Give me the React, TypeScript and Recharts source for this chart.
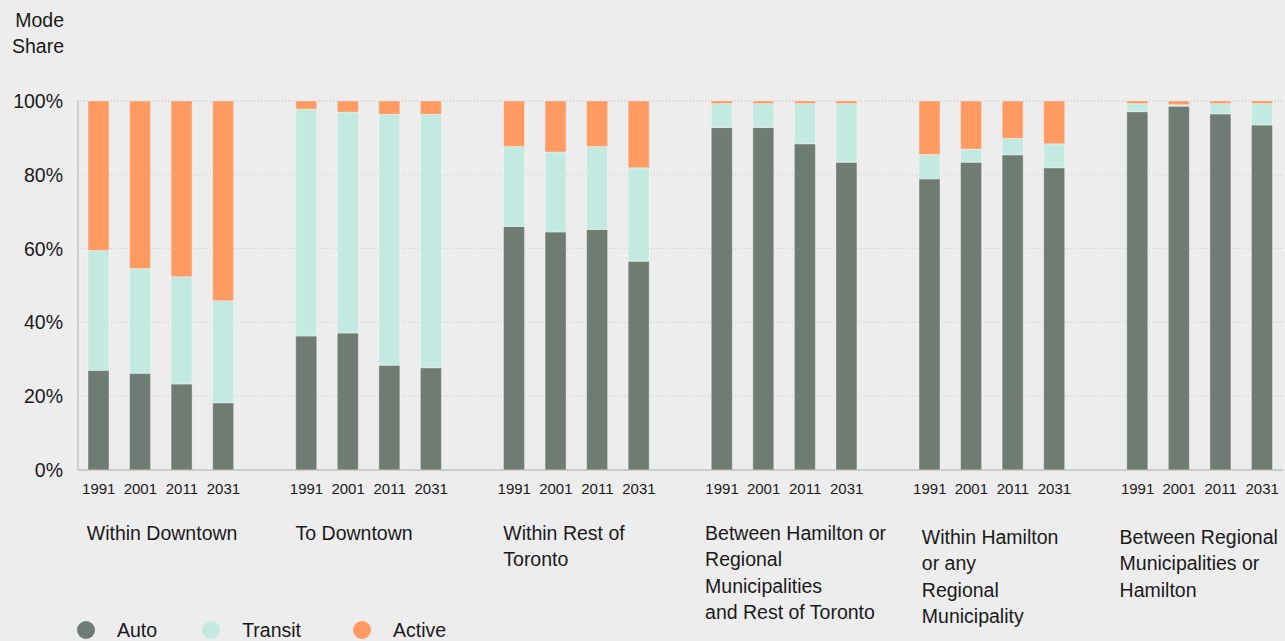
import React from "react";
import { BarChart, Bar, XAxis, YAxis, CartesianGrid } from "recharts";

const years = ["1991", "2001", "2011", "2031"];

const groupLines = [
  ["Within Downtown"],
  ["To Downtown"],
  ["Within Rest of", "Toronto"],
  ["Between Hamilton or", "Regional", "Municipalities", "and Rest of Toronto"],
  ["Within Hamilton", "or any", "Regional", "Municipality"],
  ["Between Regional", "Municipalities or", "Hamilton"],
];

// mode share (%) per group, in year order
const auto = [
  [27.0, 26.2, 23.3, 18.2],
  [36.3, 37.1, 28.4, 27.7],
  [66.0, 64.5, 65.2, 56.6],
  [92.8, 92.8, 88.4, 83.4],
  [78.9, 83.4, 85.4, 81.9],
  [97.1, 98.6, 96.5, 93.5],
];
const transit = [
  [32.5, 28.4, 29.1, 27.7],
  [61.5, 59.9, 68.0, 68.7],
  [21.7, 21.7, 22.5, 25.3],
  [6.5, 6.5, 10.9, 15.9],
  [6.6, 3.6, 4.5, 6.5],
  [2.2, 0.4, 2.8, 5.8],
];
const active = [
  [40.5, 45.4, 47.6, 54.1],
  [2.2, 3.0, 3.6, 3.6],
  [12.3, 13.8, 12.3, 18.1],
  [0.7, 0.7, 0.7, 0.7],
  [14.5, 13.0, 10.1, 11.6],
  [0.7, 1.0, 0.7, 0.7],
];

const yTicks = [0, 20, 40, 60, 80, 100];

const series = [
  { key: "auto", name: "Auto", color: "#6f7c73" },
  { key: "transit", name: "Transit", color: "#c3eae0" },
  { key: "active", name: "Active", color: "#ff9a63" },
];

// small nudges for the group captions under the years
const labelDx = [-12, -11, -11, -17, -8, -18];
const labelDy = [0, 0, 0, 0, 4, 4];

const FONT = "'Liberation Sans', Arial, Helvetica, sans-serif";

type Row = {
  key: string;
  year?: string;
  group?: number;
  first?: boolean;
  auto?: number;
  transit?: number;
  active?: number;
};

const data: Row[] = [];
groupLines.forEach((_, g) => {
  years.forEach((yr, i) => {
    data.push({
      key: `${g}-${yr}`,
      year: yr,
      group: g,
      first: i === 0,
      auto: auto[g][i],
      transit: transit[g][i],
      active: active[g][i],
    });
  });
  if (g < groupLines.length - 1) data.push({ key: `gap${g}` });
});

function XTick(props: any) {
  const { x, y, index } = props;
  const row = data[index];
  if (!row || !row.year) return null;
  const g = row.group!;
  const lx = x + labelDx[g];
  return (
    <g>
      <text
        x={x}
        y={y + 24}
        textAnchor='middle'
        fontSize={15}
        fill='#1a1a1a'
        fontFamily={FONT}
      >
        {row.year}
      </text>
      {row.first && (
        <text
          x={lx}
          y={y + 70 + labelDy[g]}
          textAnchor='start'
          fontSize={19.5}
          fill='#1a1a1a'
          fontFamily={FONT}
        >
          {groupLines[g].map((line, i) => (
            <tspan key={i} x={lx} dy={i === 0 ? 0 : 26.3}>
              {line}
            </tspan>
          ))}
        </text>
      )}
    </g>
  );
}

export default function App() {
  return (
    <div
      style={{
        position: "absolute",
        left: 0,
        top: 0,
        width: 1285,
        height: 641,
        background: "#ededed",
        overflow: "hidden",
        fontFamily: FONT,
        color: "#1a1a1a",
      }}
    >
      <div
        style={{
          position: "absolute",
          left: 0,
          top: 7,
          width: 64,
          textAlign: "right",
          fontSize: 19.5,
          lineHeight: "26px",
        }}
      >
        Mode
        <br />
        Share
      </div>

      <BarChart
        width={1285}
        height={641}
        data={data}
        margin={{ top: 101, right: 2, bottom: 0, left: 0 }}
        barSize={21}
      >
        <CartesianGrid
          vertical={false}
          stroke='#c9c9c9'
          strokeDasharray='1 2'
        />
        <XAxis
          dataKey='key'
          interval={0}
          height={171}
          tickLine={false}
          tickSize={0}
          tickMargin={0}
          axisLine={{ stroke: "#b0b0b0" }}
          tick={<XTick />}
        />
        <YAxis
          width={78}
          domain={[0, 100]}
          ticks={yTicks}
          tickFormatter={(v) => `${v}%`}
          tickLine={false}
          tickSize={0}
          tickMargin={15}
          axisLine={{ stroke: "#b0b0b0" }}
          tick={{ fill: "#1a1a1a", fontSize: 19.5, fontFamily: FONT }}
        />
        {series.map((s) => (
          <Bar
            key={s.key}
            dataKey={s.key}
            name={s.name}
            stackId='mode'
            fill={s.color}
            stroke='rgba(255,255,255,0.35)'
            strokeWidth={1}
            isAnimationActive={false}
          />
        ))}
      </BarChart>

      <div
        style={{
          position: "absolute",
          left: 77,
          top: 617,
          display: "flex",
          alignItems: "center",
          fontSize: 19.5,
          lineHeight: "26px",
        }}
      >
        {series.map((s, i) => (
          <div
            key={s.key}
            style={{
              display: "flex",
              alignItems: "center",
              marginRight: i === 0 ? 45 : 52,
            }}
          >
            <span
              style={{
                width: 18,
                height: 18,
                borderRadius: "50%",
                background: s.color,
                marginRight: 22,
                display: "inline-block",
              }}
            />
            <span>{s.name}</span>
          </div>
        ))}
      </div>
    </div>
  );
}
